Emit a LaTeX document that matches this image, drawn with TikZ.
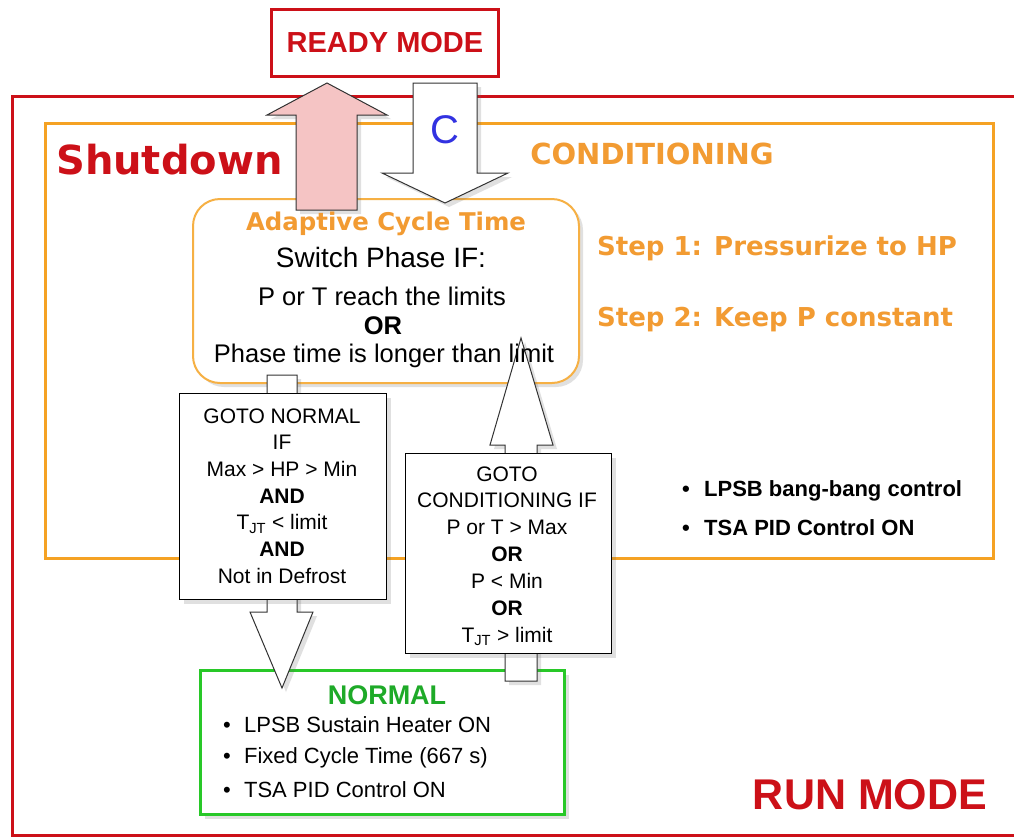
\documentclass[tikz,border=0pt]{standalone}
\usepackage{fontspec}
\setmainfont{Liberation Sans}
\newfontfamily\verd{DejaVu Sans}
\usetikzlibrary{shadows}
\definecolor{runred}{RGB}{204,16,24}
\definecolor{condorange}{RGB}{245,162,35}
\definecolor{lightorange}{RGB}{242,155,50}
\definecolor{normgreen}{RGB}{40,200,40}
\definecolor{ngreen}{RGB}{30,170,40}
\definecolor{pinkarrow}{RGB}{245,196,196}
\definecolor{cblue}{RGB}{50,50,225}
\tikzset{
  softshadow/.style={drop shadow={shadow xshift=4pt,shadow yshift=-4pt,opacity=0.2,fill=black!60}},
  boxframe/.style={draw, rectangle, inner sep=0pt, anchor=north west, fill=white},
  txt/.style={inner sep=0pt, text=black},
  blockarrow/.style={draw=black!80, line width=1pt, line join=miter, softshadow},
}
\begin{document}
\begin{tikzpicture}[x=1pt,y=-1pt]
\useasboundingbox (0,0) rectangle (1014,836);
\clip (0,0) rectangle (1014,836);
\fill[white] (0,0) rectangle (1014,836);

% RUN MODE frame
\node[boxframe, draw=runred, line width=3pt, fill=none, minimum width=1030pt, minimum height=739pt] (run) at (11,95) {};
% CONDITIONING frame
\node[boxframe, draw=condorange, line width=3pt, fill=none, minimum width=948pt, minimum height=435pt] (cond) at (44,122) {};

\node[txt, anchor=west, text=runred, font=\verd\bfseries\fontsize{40}{40}\selectfont] (shut) at (56,160) {Shutdown};
\node[txt, text=lightorange, font=\verd\bfseries\fontsize{29}{29}\selectfont] (condlbl) at (652,154) {CONDITIONING};
\node[txt, anchor=west, text=lightorange, font=\verd\bfseries\fontsize{26}{26}\selectfont] (step1) at (597,248) {Step 1: Pressurize to HP};
\node[txt, anchor=west, text=lightorange, font=\verd\bfseries\fontsize{26}{26}\selectfont] (step2) at (597,320) {Step 2: Keep P constant};
\node[txt, anchor=west, font=\bfseries\fontsize{22}{22}\selectfont] (cb1) at (682,491) {\textbullet\hspace{0.65em}LPSB bang-bang control};
\node[txt, anchor=west, font=\bfseries\fontsize{22}{22}\selectfont] (cb2) at (682,528) {\textbullet\hspace{0.65em}TSA PID Control ON};

\node[txt, text=runred, font=\bfseries\fontsize{43}{43}\selectfont] (runlbl) at (870,795) {RUN MODE};

% Adaptive cycle time box
\node[boxframe, draw=condorange!85, line width=2pt, rounded corners=27pt, minimum width=386pt, minimum height=184pt, softshadow] (adapt) at (192,198) {};

% NORMAL box
\node[boxframe, draw=normgreen, line width=3pt, minimum width=364pt, minimum height=144pt, softshadow] (normal) at (199,669) {};

% block arrows
\draw[blockarrow, fill=pinkarrow] (296,210) -- (296,115) -- (267,115) -- (327,83) -- (387,115) -- (357,115) -- (357,210) -- cycle;
\draw[blockarrow, fill=white] (413,83) -- (477,83) -- (477,173) -- (508,173) -- (445,203) -- (382,173) -- (413,173) -- cycle;
\node[txt, text=cblue, font=\fontsize{40}{40}\selectfont] (clbl) at (445,130) {C};
\draw[blockarrow, fill=white] (267,375) -- (297,375) -- (297,612) -- (313,612) -- (282,688) -- (250,612) -- (267,612) -- cycle;
\draw[blockarrow, fill=white] (505,681) -- (505,445) -- (490,445) -- (521,338) -- (553,445) -- (537,445) -- (537,681) -- cycle;

% adaptive text
\node[txt, text=lightorange, font=\verd\bfseries\fontsize{24.4}{24.4}\selectfont] (adt) at (386,224) {Adaptive Cycle Time};
\node[txt, font=\fontsize{28}{28}\selectfont] (sw) at (381,257) {Switch Phase IF:};
\node[txt, font=\fontsize{25.5}{25.5}\selectfont] (port) at (382,296) {P or T reach the limits};
\node[txt, font=\bfseries\fontsize{25.5}{25.5}\selectfont] (or1) at (383,326) {OR};
\node[txt, font=\fontsize{25.5}{25.5}\selectfont] (ph) at (384,356) {Phase time is longer than limit};

% GOTO boxes
\node[boxframe, draw=black, line width=1.3pt, minimum width=207pt, minimum height=206pt, softshadow] (gn) at (179,393) {};
\node[txt, align=center, font=\fontsize{21}{26.7}\selectfont] (gntxt) at (282,496) {GOTO NORMAL\\IF\\Max > HP > Min\\\textbf{AND}\\T\textsubscript{JT} < limit\\\textbf{AND}\\Not in Defrost};
\node[boxframe, draw=black, line width=1.3pt, minimum width=206pt, minimum height=200pt, softshadow] (gc) at (405,453) {};
\node[txt, align=center, font=\fontsize{21}{26.9}\selectfont] (gctxt) at (507,556) {GOTO\\CONDITIONING IF\\P or T > Max\\\textbf{OR}\\P < Min\\\textbf{OR}\\T\textsubscript{JT} > limit};

% NORMAL text
\node[txt, text=ngreen, font=\bfseries\fontsize{27}{27}\selectfont] (ntitle) at (387,695) {NORMAL};
\node[txt, anchor=west, font=\fontsize{22}{22}\selectfont] (nb1) at (223,725) {\textbullet\hspace{0.6em}LPSB Sustain Heater ON};
\node[txt, anchor=west, font=\fontsize{22}{22}\selectfont] (nb2) at (223,758) {\textbullet\hspace{0.6em}Fixed Cycle Time (667 s)};
\node[txt, anchor=west, font=\fontsize{22}{22}\selectfont] (nb3) at (223,790) {\textbullet\hspace{0.6em}TSA PID Control ON};

% READY MODE
\node[boxframe, draw=runred, line width=3pt, minimum width=227pt, minimum height=67pt] (ready) at (270,8) {};
\node[txt, text=runred, font=\bfseries\fontsize{29}{29}\selectfont] (readylbl) at (ready.center) {READY MODE};
\end{tikzpicture}
\end{document}
